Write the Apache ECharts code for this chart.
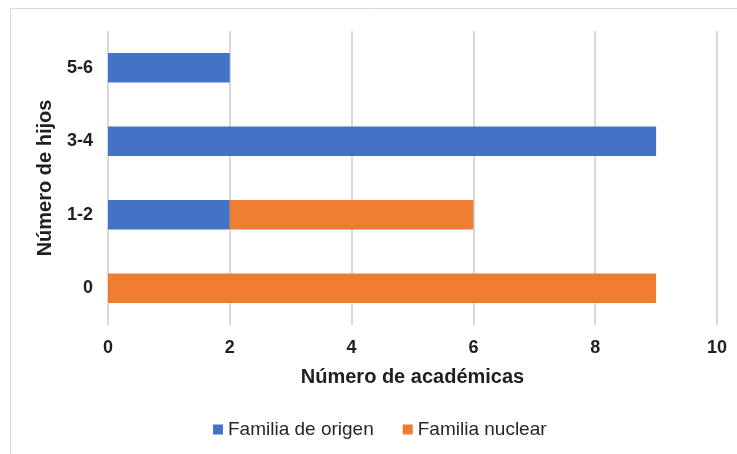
<!DOCTYPE html>
<html>
<head>
<meta charset="utf-8">
<script src="https://cdn.jsdelivr.net/npm/echarts@6/dist/echarts.min.js"></script>
<style>
  html, body { margin: 0; padding: 0; background: #fff; }
  #chart { width: 737px; height: 454px; }
</style>
</head>
<body>
<div id="chart"></div>
<script>
// Number of children (bottom to top)
var categories = ['0', '1-2', '3-4', '5-6'];
var origenValues = [0, 2, 9, 2];
var nuclearValues = [9, 4, 0, 0];
var seriesNames = ['Familia de origen', 'Familia nuclear'];
var xTicks = { min: 0, max: 10, interval: 2 };

var chart = echarts.init(document.getElementById('chart'));
var font = 'Liberation Sans, Arial, sans-serif';

chart.setOption({
  animation: false,
  textStyle: { fontFamily: font },
  graphic: [{
    type: 'rect',
    shape: { x: 10.5, y: 8.5, width: 740, height: 460 },
    style: { fill: 'none', stroke: '#d9d9d9', lineWidth: 1 },
    silent: true
  }],
  grid: { left: 108, right: 20, top: 31, bottom: 129, containLabel: false },
  legend: {
    bottom: 10,
    left: 208,
    itemWidth: 10,
    itemHeight: 10,
    itemGap: 29,
    icon: 'rect',
    textStyle: { fontSize: 19, color: '#262626', fontFamily: font },
    data: seriesNames
  },
  xAxis: {
    type: 'value',
    min: xTicks.min,
    max: xTicks.max,
    interval: xTicks.interval,
    name: 'Número de académicas',
    nameLocation: 'middle',
    nameGap: 42,
    nameTextStyle: { fontSize: 20, fontWeight: 'bold', color: '#1f1f1f' },
    axisLine: { show: false },
    axisTick: { show: false },
    axisLabel: { fontSize: 18, fontWeight: 'bold', color: '#1f1f1f', margin: 14 },
    splitLine: { lineStyle: { color: '#d9d9d9', width: 2 } }
  },
  yAxis: {
    type: 'category',
    data: categories,
    name: 'Número de hijos',
    nameLocation: 'middle',
    nameGap: 53,
    nameRotate: 90,
    nameTextStyle: { fontSize: 20, fontWeight: 'bold', color: '#1f1f1f' },
    axisLine: { show: false },
    axisTick: { show: false },
    axisLabel: { fontSize: 18, fontWeight: 'bold', color: '#1f1f1f', margin: 15 }
  },
  series: [{
    name: seriesNames[0],
    type: 'bar',
    stack: 'total',
    barWidth: '40%',
    itemStyle: { color: '#4472C4' },
    data: origenValues
  }, {
    name: seriesNames[1],
    type: 'bar',
    stack: 'total',
    barWidth: '40%',
    itemStyle: { color: '#ED7D31' },
    data: nuclearValues
  }]
});
</script>
</body>
</html>
